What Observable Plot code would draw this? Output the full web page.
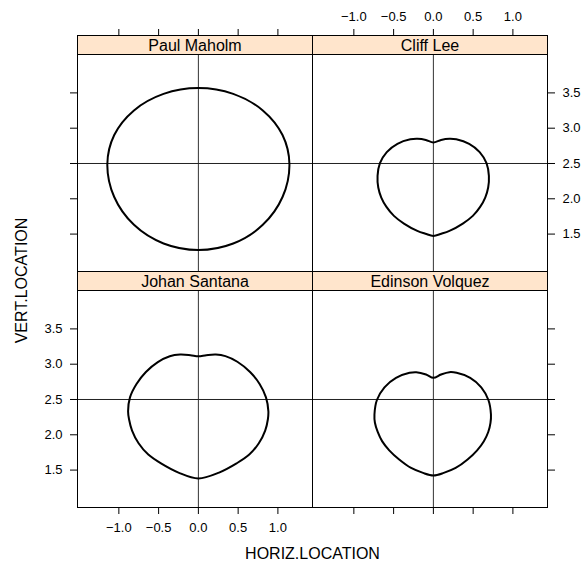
<!DOCTYPE html>
<html>
<head>
<meta charset="utf-8">
<script src="https://cdn.jsdelivr.net/npm/d3@7"></script>
<script src="https://cdn.jsdelivr.net/npm/@observablehq/plot@0.6"></script>
<style>
  body { margin: 0; background: #fff; }
  #chart { position: relative; width: 581px; height: 563px; font-family: "Liberation Sans", Arial, Helvetica, sans-serif; }
  #chart svg { position: absolute; left: 0; top: 0; }
</style>
</head>
<body>
<div id="chart"></div>
<script>
// ---- data ----
const pitchers = ["Paul Maholm", "Cliff Lee", "Johan Santana", "Edinson Volquez"];
const xTicks = [-1.0, -0.5, 0.0, 0.5, 1.0];
const yTicks = [1.5, 2.0, 2.5, 3.0, 3.5];
const xTitle = "HORIZ.LOCATION";
const yTitle = "VERT.LOCATION";

const maholmX = [1.145, 1.058, 0.810, 0.438, 0.000, -0.438, -0.810, -1.058, -1.145, -1.058, -0.810, -0.438, 0.000, 0.438, 0.810, 1.058];
const maholmY = [2.490, 2.903, 3.252, 3.486, 3.568, 3.486, 3.252, 2.903, 2.490, 2.025, 1.631, 1.367, 1.275, 1.367, 1.631, 2.025];

const leeX = [0.000, 0.097, 0.202, 0.288, 0.450, 0.582, 0.668, 0.698, 0.689, 0.652, 0.588, 0.496, 0.370, 0.202, 0.100, 0.000, -0.100, -0.202, -0.370, -0.496, -0.590, -0.655, -0.693, -0.702, -0.672, -0.586, -0.452, -0.290, -0.200, -0.095];
const leeY = [2.798, 2.834, 2.850, 2.842, 2.779, 2.662, 2.505, 2.325, 2.160, 2.018, 1.885, 1.758, 1.649, 1.545, 1.505, 1.474, 1.505, 1.545, 1.649, 1.758, 1.885, 2.018, 2.160, 2.325, 2.505, 2.662, 2.779, 2.842, 2.850, 2.834];

const santanaX = [0.000, 0.100, 0.220, 0.340, 0.490, 0.650, 0.770, 0.850, 0.880, 0.874, 0.840, 0.760, 0.640, 0.480, 0.260, 0.000, -0.250, -0.470, -0.630, -0.752, -0.834, -0.872, -0.884, -0.860, -0.778, -0.660, -0.510, -0.360, -0.230, -0.100];
const santanaY = [3.113, 3.128, 3.137, 3.115, 3.035, 2.890, 2.720, 2.530, 2.335, 2.220, 2.060, 1.880, 1.720, 1.595, 1.465, 1.382, 1.465, 1.595, 1.720, 1.880, 2.060, 2.220, 2.335, 2.530, 2.720, 2.890, 3.030, 3.113, 3.137, 3.128];

const volquezX = [0.000, 0.096, 0.201, 0.292, 0.463, 0.602, 0.692, 0.724, 0.718, 0.690, 0.635, 0.550, 0.430, 0.280, 0.130, 0.000, -0.130, -0.280, -0.430, -0.555, -0.645, -0.700, -0.735, -0.741, -0.710, -0.615, -0.470, -0.300, -0.215, -0.092];
const volquezY = [2.807, 2.854, 2.887, 2.878, 2.807, 2.673, 2.493, 2.288, 2.170, 2.040, 1.910, 1.780, 1.650, 1.530, 1.460, 1.425, 1.460, 1.530, 1.650, 1.780, 1.910, 2.040, 2.170, 2.288, 2.493, 2.673, 2.807, 2.878, 2.887, 2.854];

const curvesX = [maholmX, leeX, santanaX, volquezX];
const curvesY = [maholmY, leeY, santanaY, volquezY];

// ---- layout ----
const W = 581, H = 563;
const colLeft = [77, 312];
const rowTop = [35, 271];
const panelW = 235, stripH = 19, panelH = 217;
const xDomain = [-1.52, 1.435];
const yDomain = [0.97, 4.044];
const fmt = d3.format(".1f");
const font = "Liberation Sans, Arial, Helvetica, sans-serif";

// which axes each panel shows (lattice alternating)
const axesCfg = [
  {top: "ticks", left: "ticks"},
  {top: "labels", right: "labels"},
  {bottom: "labels", left: "labels", titles: true},
  {bottom: "ticks", right: "ticks"}
];
const colOf = [0, 1, 0, 1], rowOf = [0, 0, 1, 1];

const chart = document.getElementById("chart");

pitchers.forEach((name, i) => {
  const left = colLeft[colOf[i]];
  const top = rowTop[rowOf[i]];
  const cfg = axesCfg[i];
  const pts = curvesX[i].map((x, k) => ({x, y: curvesY[i][k]}));
  const marks = [];
  const tickOpts = {tickSize: 7, tickPadding: 8, label: null, fontSize: 13};

  for (const side of ["top", "bottom"]) {
    if (cfg[side] === "labels") marks.push(Plot.axisX(xTicks, {...tickOpts, anchor: side, tickFormat: fmt}));
    else if (cfg[side] === "ticks") marks.push(Plot.axisX(xTicks, {...tickOpts, anchor: side, tickFormat: () => ""}));
  }
  for (const side of ["left", "right"]) {
    if (cfg[side] === "labels") marks.push(Plot.axisY(yTicks, {...tickOpts, anchor: side, tickFormat: fmt}));
    else if (cfg[side] === "ticks") marks.push(Plot.axisY(yTicks, {...tickOpts, anchor: side, tickFormat: () => ""}));
  }

  marks.push(
    Plot.ruleX([0], {y1: yDomain[0], y2: yDomain[1], stroke: "#333", strokeWidth: 1}),
    Plot.ruleY([2.5], {stroke: "#222", strokeWidth: 1}),
    Plot.line(pts, {x: "x", y: "y", curve: "catmull-rom-closed", stroke: "black", strokeWidth: 2}),
    Plot.frame({fill: "#ffe5cc", stroke: "black", insetBottom: panelH}),
    Plot.frame({stroke: "black"}),
    Plot.text([name], {frameAnchor: "top", dy: 10.5, lineAnchor: "middle", fontSize: 16, fill: "black"})
  );

  if (cfg.titles) {
    const centerX = (colLeft[0] + colLeft[1] + panelW) / 2;
    marks.push(
      Plot.text([xTitle], {frameAnchor: "bottom", dx: centerX - (left + panelW / 2), dy: 51, lineAnchor: "bottom", textAnchor: "middle", fontSize: 16, fill: "black"}),
      Plot.text([yTitle], {frameAnchor: "left", rotate: -90, dx: 26.5 - left, dy: 280 - (top + (stripH + panelH) / 2), lineAnchor: "bottom", textAnchor: "middle", fontSize: 16, fill: "black"})
    );
  }

  const svg = Plot.plot({
    width: W,
    height: H,
    marginLeft: left,
    marginRight: W - left - panelW,
    marginTop: top,
    marginBottom: H - top - stripH - panelH,
    x: {domain: xDomain},
    y: {domain: yDomain, range: [top + stripH + panelH, top + stripH]},
    style: {background: "transparent", overflow: "visible", fontFamily: font, fontSize: "13px", color: "black"},
    marks
  });
  chart.appendChild(svg);
});
</script>
</body>
</html>
